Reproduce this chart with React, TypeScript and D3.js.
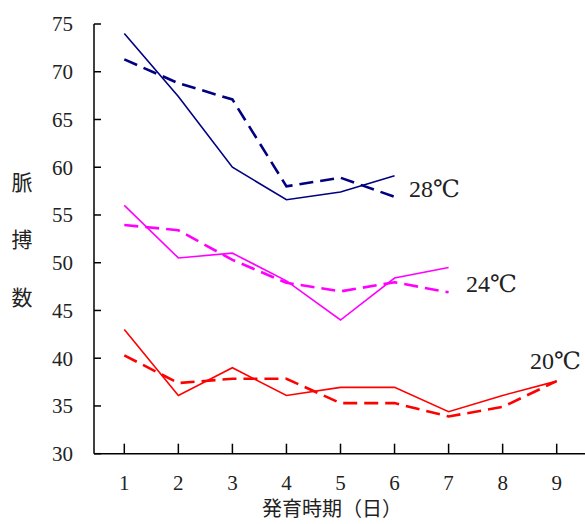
import React from "react";
import * as d3 from "d3";

const days = [1, 2, 3, 4, 5, 6, 7, 8, 9];
const yTicks = [30, 35, 40, 45, 50, 55, 60, 65, 70, 75];

const t28Solid = [74.0, 67.4, 60.0, 56.6, 57.4, 59.1];
const t28Dashed = [71.3, 68.8, 67.1, 58.0, 58.9, 56.9];
const t24Solid = [56.0, 50.5, 51.0, 48.1, 44.0, 48.4, 49.5];
const t24Dashed = [53.95, 53.4, 50.3, 47.9, 47.0, 47.95, 46.9];
const t20Solid = [43.0, 36.1, 39.0, 36.1, 36.95, 36.95, 34.4, 36.1, 37.6];
const t20Dashed = [40.3, 37.4, 37.85, 37.85, 35.3, 35.3, 33.9, 34.9, 37.6];

const series = [
  { values: t28Solid, color: "#000080", dashed: false },
  { values: t28Dashed, color: "#000080", dashed: true },
  { values: t24Solid, color: "#ff00ff", dashed: false },
  { values: t24Dashed, color: "#ff00ff", dashed: true },
  { values: t20Solid, color: "#ff0000", dashed: false },
  { values: t20Dashed, color: "#ff0000", dashed: true },
];

const labels = [
  { text: "28℃", x: 409, y: 197 },
  { text: "24℃", x: 466, y: 292 },
  { text: "20℃", x: 530, y: 369 },
];

const serif = "'Liberation Serif', 'DejaVu Serif', serif";
const cjk = "'Noto Sans CJK JP', sans-serif";

export default function App() {
  const W = 585;
  const H = 524;
  const axisX = 94;
  const x = d3.scaleLinear().domain([1, 9]).range([124.3, 556.7]);
  const y = d3.scaleLinear().domain([30, 75]).range([453.7, 24]);
  const line = d3
    .line<number>()
    .x((_, i) => x(days[i]))
    .y((d) => y(d));

  return (
    <svg
      width={W}
      height={H}
      style={{ position: "absolute", left: 0, top: 0, background: "#fff" }}
    >
      {/* axes */}
      <line x1={axisX} x2={axisX} y1={y(75)} y2={y(30)} stroke="#000" strokeWidth={1.5} />
      <line x1={axisX} x2={W} y1={y(30)} y2={y(30)} stroke="#000" strokeWidth={1.5} />
      {yTicks.map((t) => (
        <g key={t}>
          <line x1={axisX} x2={axisX + 7} y1={y(t)} y2={y(t)} stroke="#000" strokeWidth={1.5} />
          <text
            x={73}
            y={y(t)}
            dy="0.35em"
            textAnchor="end"
            fontFamily={serif}
            fontSize={21}
            fill="#222"
          >
            {t}
          </text>
        </g>
      ))}
      {days.map((d) => (
        <g key={d}>
          <line x1={x(d)} x2={x(d)} y1={y(30)} y2={y(30) - 10} stroke="#000" strokeWidth={1.5} />
          <text
            x={x(d)}
            y={490}
            textAnchor="middle"
            fontFamily={serif}
            fontSize={21}
            fill="#222"
          >
            {d}
          </text>
        </g>
      ))}
      {/* axis titles */}
      {["脈", "搏", "数"].map((c, i) => (
        <text
          key={c}
          x={22}
          y={[183, 240, 298][i]}
          dy="0.35em"
          textAnchor="middle"
          fontFamily={cjk}
          fontSize={21}
          fill="#222"
        >
          {c}
        </text>
      ))}
      <text x={332} y={516} textAnchor="middle" fontFamily={cjk} fontSize={20} fill="#222">
        発育時期（日）
      </text>

      {/* series */}
      {series.map((s, i) => (
        <path
          key={i}
          d={line(s.values) || ""}
          fill="none"
          stroke={s.color}
          strokeWidth={s.dashed ? 2.6 : 1.6}
          strokeDasharray={s.dashed ? "14,7" : undefined}
        />
      ))}

      {labels.map((l) => (
        <text key={l.text} x={l.x} y={l.y} fontFamily={serif} fontSize={24} fill="#222">
          {l.text}
        </text>
      ))}
    </svg>
  );
}
